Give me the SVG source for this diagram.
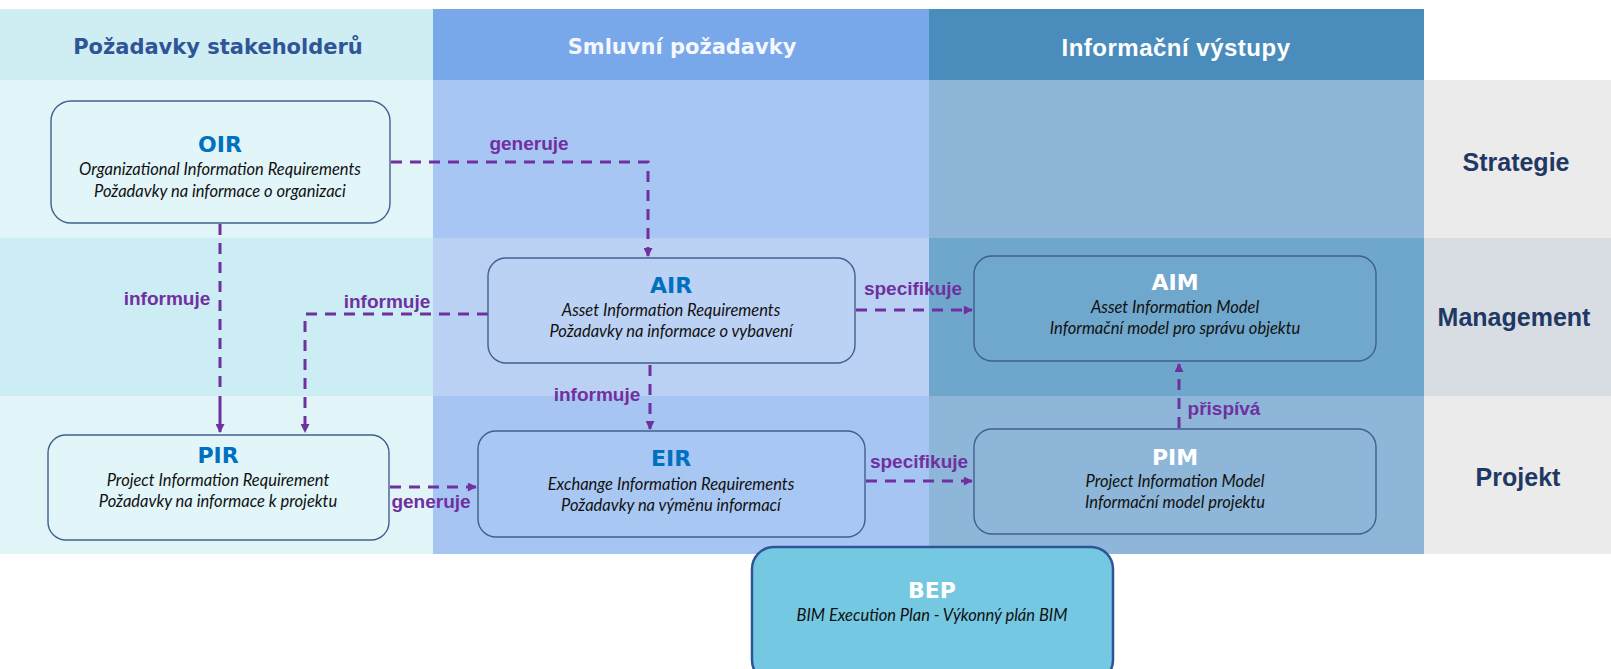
<svg xmlns="http://www.w3.org/2000/svg" width="1611" height="669" viewBox="0 0 1611 669">
  <defs>
    <marker id="arrow" viewBox="0 0 10 10" refX="9" refY="5" markerWidth="10" markerHeight="9" markerUnits="userSpaceOnUse" orient="auto">
      <path d="M0,0 L10,5 L0,10 z" fill="#7030A0"/>
    </marker>
    <style>
      .hdr { font-family: "DejaVu Sans", Verdana, sans-serif; font-weight: bold; font-size: 21px; text-anchor: middle; }
      .hdr3 { font-family: "Liberation Sans", Arial, sans-serif; font-weight: bold; font-size: 24px; letter-spacing: 0.5px; text-anchor: middle; fill: #FFFFFF; }
      .row { font-family: "Liberation Sans", Arial, sans-serif; font-weight: bold; font-size: 25px; text-anchor: middle; fill: #1F3864; }
      .box { stroke: #41608F; stroke-width: 1.4; }
      .title { font-family: "DejaVu Sans", Verdana, sans-serif; font-weight: bold; font-size: 22px; text-anchor: middle; fill: #0070C0; }
      .title.w { fill: #FFFFFF; }
      .sub { font-family: Lato, "Liberation Sans", sans-serif; font-style: italic; font-size: 16.5px; text-anchor: middle; fill: #111111; }
      .link { fill: none; stroke: #7030A0; stroke-width: 3; stroke-dasharray: 11 8; }
      .solid { fill: none; stroke: #7030A0; stroke-width: 3; }
      .lbl { font-family: "Liberation Sans", Arial, sans-serif; font-weight: bold; font-size: 19px; text-anchor: middle; fill: #7030A0; }
    </style>
  </defs>

  <rect x="0" y="0" width="1611" height="669" fill="#FFFFFF"/>

  <!-- column / row bands -->
  <g id="bands">
    <!-- column 1: stakeholder requirements -->
    <rect x="0" y="9" width="433" height="71" fill="#CFEEF4"/>
    <rect x="0" y="80" width="433" height="158" fill="#E1F5F8"/>
    <rect x="0" y="238" width="433" height="158" fill="#CDEDF4"/>
    <rect x="0" y="396" width="433" height="158" fill="#E1F5F8"/>
    <!-- column 2: contract requirements -->
    <rect x="433" y="9" width="496" height="71" fill="#78A7EA"/>
    <rect x="433" y="80" width="496" height="158" fill="#A8C6F3"/>
    <rect x="433" y="238" width="496" height="158" fill="#BBD1F4"/>
    <rect x="433" y="396" width="496" height="158" fill="#A7C5F2"/>
    <!-- column 3: information outputs -->
    <rect x="929" y="9" width="495" height="71" fill="#4A8DBD"/>
    <rect x="929" y="80" width="495" height="158" fill="#8DB6D8"/>
    <rect x="929" y="238" width="495" height="158" fill="#6FA6CC"/>
    <rect x="929" y="396" width="495" height="158" fill="#8DB6D8"/>
    <!-- row labels column -->
    <rect x="1424" y="80" width="187" height="158" fill="#EBEBEB"/>
    <rect x="1424" y="238" width="187" height="158" fill="#D8DCE3"/>
    <rect x="1424" y="396" width="187" height="158" fill="#EBEBEB"/>
  </g>

  <g id="headers">
    <text class="hdr" x="218" y="54" fill="#2F5597">Požadavky stakeholderů</text>
    <text class="hdr" x="682" y="54" fill="#F4F8FE">Smluvní požadavky</text>
    <text class="hdr3" x="1176" y="56">Informační výstupy</text>
  </g>

  <g id="row-labels">
    <text class="row" x="1516" y="171">Strategie</text>
    <text class="row" x="1514" y="326">Management</text>
    <text class="row" x="1518" y="486">Projekt</text>
  </g>

  <!-- connectors -->
  <g id="connectors">
    <!-- OIR -> AIR -->
    <path class="link" d="M391,162 H648 V256" marker-end="url(#arrow)"/>
    <text class="lbl" x="529" y="150">generuje</text>
    <!-- OIR -> PIR -->
    <path class="link" d="M220,224 V392"/>
    <path class="solid" d="M220,396 V432" marker-end="url(#arrow)"/>
    <text class="lbl" x="167" y="305">informuje</text>
    <!-- AIR -> PIR -->
    <path class="link" d="M488,314 H305 V432" marker-end="url(#arrow)"/>
    <text class="lbl" x="387" y="308">informuje</text>
    <!-- PIR -> EIR -->
    <path class="link" d="M390,487 H476" marker-end="url(#arrow)"/>
    <text class="lbl" x="431" y="508">generuje</text>
    <!-- AIR -> EIR -->
    <path class="link" d="M650,365 V429" marker-end="url(#arrow)"/>
    <text class="lbl" x="597" y="401">informuje</text>
    <!-- AIR -> AIM -->
    <path class="link" d="M856,310 H972" marker-end="url(#arrow)"/>
    <text class="lbl" x="913" y="295">specifikuje</text>
    <!-- EIR -> PIM -->
    <path class="link" d="M866,481 H972" marker-end="url(#arrow)"/>
    <text class="lbl" x="919" y="468">specifikuje</text>
    <!-- PIM -> AIM -->
    <path class="link" d="M1179,428 V364" marker-end="url(#arrow)"/>
    <text class="lbl" x="1224" y="415">přispívá</text>
  </g>

  <!-- nodes -->
  <g id="OIR">
    <rect class="box" x="51" y="101" width="339" height="122" rx="20" fill="#E2F6F9"/>
    <text class="title" x="220" y="152">OIR</text>
    <text class="sub" x="220" y="175">Organizational Information Requirements</text>
    <text class="sub" x="220" y="197">Požadavky na informace o organizaci</text>
  </g>

  <g id="AIR">
    <rect class="box" x="488" y="258" width="367" height="105" rx="18" fill="#BCD2F4"/>
    <text class="title" x="671" y="293">AIR</text>
    <text class="sub" x="671" y="316">Asset Information Requirements</text>
    <text class="sub" x="671" y="337">Požadavky na informace o vybavení</text>
  </g>

  <g id="AIM">
    <rect class="box" x="974" y="256" width="402" height="105" rx="18" fill="#70A7CC"/>
    <text class="title w" x="1175" y="290">AIM</text>
    <text class="sub" x="1175" y="313">Asset Information Model</text>
    <text class="sub" x="1175" y="334">Informační model pro správu objektu</text>
  </g>

  <g id="PIR">
    <rect class="box" x="48" y="435" width="341" height="105" rx="18" fill="#E2F6F9"/>
    <text class="title" x="218" y="463">PIR</text>
    <text class="sub" x="218" y="486">Project Information Requirement</text>
    <text class="sub" x="218" y="507">Požadavky na informace k projektu</text>
  </g>

  <g id="EIR">
    <rect class="box" x="478" y="431" width="387" height="106" rx="18" fill="#A9C7F3"/>
    <text class="title" x="671" y="466">EIR</text>
    <text class="sub" x="671" y="490">Exchange Information Requirements</text>
    <text class="sub" x="671" y="511">Požadavky na výměnu informací</text>
  </g>

  <g id="PIM">
    <rect class="box" x="974" y="429" width="402" height="105" rx="18" fill="#8DB6D8"/>
    <text class="title w" x="1175" y="465">PIM</text>
    <text class="sub" x="1175" y="487">Project Information Model</text>
    <text class="sub" x="1175" y="508">Informační model projektu</text>
  </g>

  <g id="BEP">
    <rect x="752" y="547" width="361" height="135" rx="22" fill="#75C8E1" stroke="#2F5597" stroke-width="2.5"/>
    <text class="title w" x="932" y="598">BEP</text>
    <text class="sub" x="932" y="621">BIM Execution Plan - Výkonný plán BIM</text>
  </g>
</svg>
